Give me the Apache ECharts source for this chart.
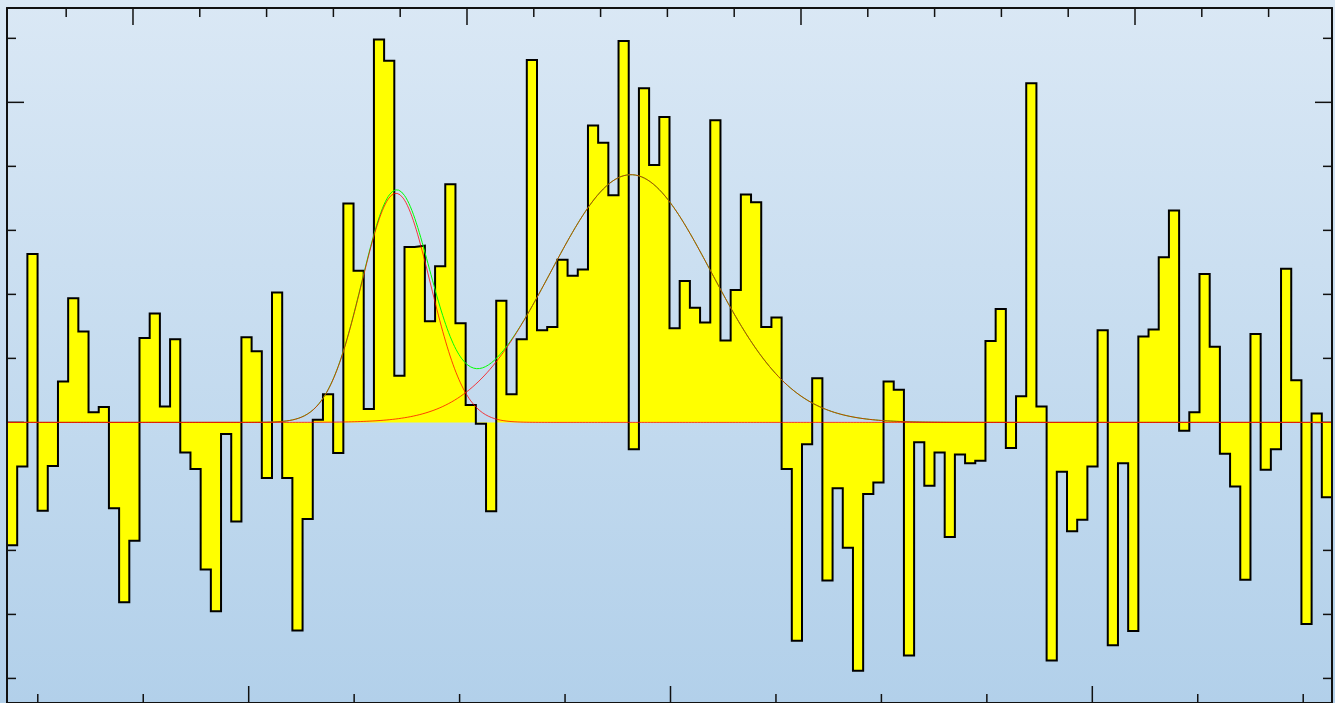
<!DOCTYPE html>
<html>
<head>
<meta charset="utf-8">
<script src="https://cdn.jsdelivr.net/npm/echarts@6/dist/echarts.min.js"></script>
<style>
  html, body { margin: 0; padding: 0; overflow: hidden; }
  #chart { width: 1335px; height: 703px; }
</style>
</head>
<body>
<div id="chart"></div>
<script>
// Bin contents of the histogram, left to right (130 equal-width bins)
const binValues = [
  -19.2, -6.9, 26.3, -13.8, -6.8, 6.4, 19.4, 14.2, 1.6, 2.4,
  -13.4, -28.1, -18.5, 13.2, 17.0, 2.5, 13.0, -4.7, -7.3, -23.0,
  -29.5, -1.8, -15.5, 13.3, 11.1, -8.7, 20.3, -8.7, -32.5, -15.1,
  0.4, 4.4, -4.8, 34.2, 23.7, 2.1, 59.8, 56.5, 7.3, 27.4,
  27.6, 15.8, 24.4, 37.2, 15.5, 2.7, -0.2, -13.9, 19.0, 4.4,
  13.0, 56.6, 14.4, 14.9, 25.4, 22.9, 23.9, 46.4, 43.7, 35.5,
  59.6, -4.2, 52.2, 40.2, 47.7, 14.7, 22.1, 17.9, 15.6, 47.2,
  12.8, 20.7, 35.6, 34.4, 14.9, 16.4, -7.3, -34.1, -3.4, 6.9,
  -24.7, -10.3, -19.6, -38.8, -11.2, -9.4, 6.4, 5.1, -36.4, -3.1,
  -9.9, -4.7, -17.9, -5.0, -6.4, -6.0, 12.7, 17.7, -4.0, 4.1,
  53.0, 2.5, -37.2, -7.7, -17.0, -15.2, -6.9, 14.4, -34.8, -6.4,
  -32.6, 13.4, 14.5, 25.8, 33.1, -1.3, 1.6, 23.2, 11.8, -4.9,
  -10.0, -24.6, 13.8, -7.4, -4.2, 24.0, 6.6, -31.5, 1.4, -11.7
];

// Histogram / axis ranges
const histRange = [-2.292, 10.273];     // lower and upper edge of the binned range
const xRangeTop = [-1.886, 17.949];     // secondary scale shown along the top edge
const yRange = [-43.84, 64.74];

// Tick marks (no labels are drawn)
const bottomTicks = [-2, -1, 0, 1, 2, 3, 4, 5, 6, 7, 8, 9, 10];
const bottomMajor = [0, 4, 8];
const topTicks = [-1, 0, 1, 2, 3, 4, 5, 6, 7, 8, 9, 10, 11, 12, 13, 14, 15, 16, 17];
const topMajor = [0, 5, 10, 15];
const yTicks = [-40, -30, -20, -10, 0, 10, 20, 30, 40, 50, 60];
const yMajor = [0, 50];

// Fitted Gaussian components: [amplitude, mean, sigma]
const peakNarrow = [35.8, 1.397, 0.326];
const peakWide = [38.7, 3.625, 0.7615];

// ---- derived series ----
const nBins = binValues.length;
const binWidth = (histRange[1] - histRange[0]) / nBins;
const histPoints = binValues.map((v, i) => [histRange[0] + i * binWidth, v]);
histPoints.push([histRange[1], binValues[nBins - 1]]);

function gauss(p, x) {
  const t = (x - p[1]) / p[2];
  return p[0] * Math.exp(-0.5 * t * t);
}
const nSamples = 900;
const curveNarrow = [], curveWide = [], curveSum = [];
for (let i = 0; i <= nSamples; i++) {
  const x = histRange[0] + (histRange[1] - histRange[0]) * i / nSamples;
  const a = gauss(peakNarrow, x), b = gauss(peakWide, x);
  curveNarrow.push([x, a]);
  curveWide.push([x, b]);
  curveSum.push([x, a + b]);
}
// both components in one stroked path, separated by a gap
const curveComponents = curveNarrow.concat([[histRange[1], '-']], curveWide);

const LONG = 17, SHORT = 9;
const tickStyle = { stroke: '#111', lineWidth: 1.5 };

function tickSeries(name, values, majors, side) {
  return {
    type: 'custom',
    name: name,
    xAxisIndex: side === 'top' ? 1 : 0,
    yAxisIndex: 0,
    z: 1,
    silent: true,
    clip: false,
    data: values.map(v => [v, majors.includes(v) ? 1 : 0]),
    renderItem: function (params, api) {
      const v = api.value(0);
      const len = api.value(1) ? LONG : SHORT;
      let p, shape;
      if (side === 'bottom') {
        p = api.coord([v, yRange[0]]);
        shape = { x1: p[0], y1: p[1], x2: p[0], y2: p[1] - len };
      } else if (side === 'top') {
        p = api.coord([v, yRange[1]]);
        shape = { x1: p[0], y1: p[1], x2: p[0], y2: p[1] + len };
      } else if (side === 'left') {
        p = api.coord([histRange[0], v]);
        shape = { x1: p[0], y1: p[1], x2: p[0] + len, y2: p[1] };
      } else {
        p = api.coord([histRange[1], v]);
        shape = { x1: p[0], y1: p[1], x2: p[0] - len, y2: p[1] };
      }
      return { type: 'line', shape: shape, style: tickStyle };
    }
  };
}

const frameLine = { show: true, onZero: false, lineStyle: { color: '#111', width: 2 } };
const hiddenBits = {
  axisTick: { show: false },
  axisLabel: { show: false },
  splitLine: { show: false }
};

const chart = echarts.init(document.getElementById('chart'), null, { renderer: 'canvas' });
chart.setOption({
  animation: false,
  backgroundColor: {
    type: 'linear', x: 0, y: 0, x2: 0, y2: 1,
    colorStops: [
      { offset: 0, color: '#dae8f5' },
      { offset: 1, color: '#b2d0ea' }
    ]
  },
  grid: { left: 7, top: 8, width: 1325, height: 696, containLabel: false },
  xAxis: [
    Object.assign({ type: 'value', position: 'bottom', min: histRange[0], max: histRange[1],
      axisLine: frameLine, z: 10 }, hiddenBits),
    Object.assign({ type: 'value', position: 'top', min: xRangeTop[0], max: xRangeTop[1],
      axisLine: frameLine, z: 10 }, hiddenBits)
  ],
  yAxis: [
    Object.assign({ type: 'value', position: 'left', min: yRange[0], max: yRange[1],
      axisLine: frameLine, z: 10 }, hiddenBits),
    Object.assign({ type: 'value', position: 'right', min: yRange[0], max: yRange[1],
      axisLine: frameLine, z: 10 }, hiddenBits)
  ],
  series: [
    tickSeries('ticks-bottom', bottomTicks, bottomMajor, 'bottom'),
    tickSeries('ticks-top', topTicks, topMajor, 'top'),
    tickSeries('ticks-left', yTicks, yMajor, 'left'),
    tickSeries('ticks-right', yTicks, yMajor, 'right'),
    {
      type: 'line',
      name: 'histogram',
      data: histPoints,
      step: 'end',
      showSymbol: false,
      symbol: 'none',
      z: 2,
      lineStyle: { color: '#000', width: 2, join: 'miter' },
      areaStyle: { color: '#ffff00', opacity: 1, origin: 0 },
      silent: true
    },
    {
      type: 'line', name: 'fit total', data: curveSum, showSymbol: false, symbol: 'none',
      z: 3, lineStyle: { color: '#00ff00', width: 1 }, silent: true
    },
    {
      type: 'line', name: 'fit components', data: curveComponents, showSymbol: false, symbol: 'none',
      connectNulls: false,
      z: 4, lineStyle: { color: '#ff0000', width: 1, opacity: 0.75 }, silent: true
    }
  ]
});
</script>
</body>
</html>
